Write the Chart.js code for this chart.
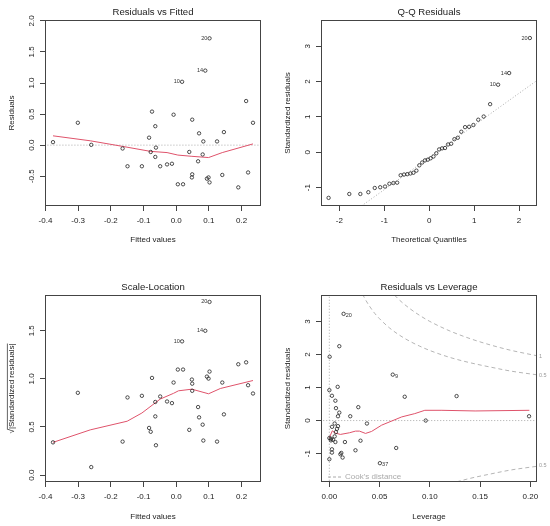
<!DOCTYPE html>
<html><head><meta charset="utf-8">
<script src="https://cdn.jsdelivr.net/npm/chart.js@4/dist/chart.umd.min.js"></script>
<style>
html,body{margin:0;padding:0;background:#fff;}
#wrap{position:relative;width:550px;height:526px;background:#fff;}
canvas{position:absolute;display:block;}
</style></head><body>
<div id="wrap">
<canvas id="c1" width="275" height="263" style="left:0;top:0"></canvas>
<canvas id="c2" width="275" height="263" style="left:275px;top:0"></canvas>
<canvas id="c3" width="275" height="251" style="left:0;top:275px"></canvas>
<canvas id="c4" width="275" height="251" style="left:275px;top:275px"></canvas>
</div>
<script>
// ---------- data ----------
const fitted = [-0.377,-0.301,-0.26,-0.164,-0.149,-0.105,-0.083,-0.078,-0.074,-0.064,-0.062,-0.064,-0.049,-0.028,-0.013,-0.008,0.005,0.018,0.021,0.04,0.049,0.049,0.048,0.067,0.07,0.081,0.083,0.089,0.094,0.099,0.102,0.102,0.125,0.141,0.146,0.19,0.214,0.22,0.235];
const residuals = [0.048,0.36,0.005,-0.054,-0.34,-0.34,0.12,-0.11,0.54,0.305,-0.04,-0.19,-0.34,-0.31,-0.30,0.49,-0.63,1.02,-0.63,-0.11,0.41,-0.47,-0.52,-0.26,0.19,-0.15,0.06,1.20,-0.54,-0.52,-0.60,1.72,0.06,-0.48,0.21,-0.68,0.71,-0.44,0.36];
const sqrtAbsStdRes = [0.34,0.855,0.083,0.348,0.807,0.824,0.49,0.45,1.01,0.76,0.31,0.61,0.817,0.765,0.748,0.962,1.097,1.39,1.097,0.47,0.876,0.95,0.993,0.707,0.60,0.524,0.359,1.5,1.024,1.003,1.076,1.80,0.348,0.962,0.631,1.152,1.172,0.934,0.848];
const idIndex = [17,27,31];
const idText = ['10','14','20'];

const lowessRFx = [-0.377,-0.263,-0.164,-0.079,-0.028,0.005,0.048,0.099,0.141,0.235];
const lowessRFy = [0.15,0.07,-0.02,-0.10,-0.12,-0.16,-0.18,-0.20,-0.12,0.02];

const lowessSLx = [-0.377,-0.263,-0.15,-0.105,-0.049,-0.008,0.007,0.048,0.099,0.135,0.235];
const lowessSLy = [0.34,0.47,0.56,0.645,0.79,0.85,0.876,0.893,0.845,0.90,0.983];

const qqTheoretical = [-2.241,-1.780,-1.534,-1.356,-1.213,-1.092,-0.984,-0.887,-0.798,-0.714,-0.636,-0.561,-0.489,-0.419,-0.352,-0.286,-0.221,-0.157,-0.094,-0.031,0.031,0.094,0.157,0.221,0.286,0.352,0.419,0.489,0.561,0.636,0.714,0.798,0.887,0.984,1.092,1.213,1.356,1.534,1.780,2.241];
const qqStdRes = [-1.29,-1.18,-1.18,-1.13,-1.01,-0.99,-0.97,-0.89,-0.87,-0.86,-0.65,-0.63,-0.62,-0.60,-0.58,-0.52,-0.37,-0.29,-0.23,-0.21,-0.17,-0.12,-0.03,0.08,0.11,0.12,0.22,0.24,0.37,0.41,0.58,0.71,0.72,0.77,0.92,1.01,1.36,1.91,2.24,3.23];
const qqIdIndex = [37,38,39];
const qqIdText = ['10','14','20'];
const qqLineX = [-1.51,2.41];
const qqLineY = [-1.52,2.04];

const leverage = [0.0142,0.0099,0.0003,0.0631,0.0,0.0083,0.075,0.0026,0.006,0.0066,0.0099,0.0086,0.0288,0.0208,0.0374,0.0053,0.0027,0.0086,0.0076,0.0,0.0016,0.0053,0.006,0.0155,0.031,0.0026,0.0026,0.026,0.0119,0.0132,0.011,0.0,0.0665,0.0503,0.1266,0.0959,0.1987,0.0016,0.0036,0.0065];
const levStdRes = [3.23,2.25,1.93,1.39,0.92,1.02,0.72,0.75,0.60,0.375,0.24,0.13,0.405,0.13,-0.09,-0.09,-0.19,-0.17,-0.25,-0.53,-0.60,-0.48,-0.65,-0.65,-0.61,-0.87,-0.97,-0.90,-0.98,-1.12,-1.02,-1.17,-0.83,-1.29,0.74,0.0,0.13,-0.55,-0.58,-0.35];
const levIdIndex = [0,3,33];
const levIdText = ['20','9','37'];
const lowessLevX = [0,0.003,0.006,0.011,0.02,0.026,0.03,0.036,0.042,0.052,0.072,0.085,0.095,0.112,0.145,0.199];
const lowessLevY = [-0.52,-0.31,-0.38,-0.42,-0.37,-0.32,-0.32,-0.39,-0.33,-0.14,0.11,0.21,0.31,0.31,0.29,0.31];

const cookHalfUpX = [0.03,0.035,0.04,0.045,0.05,0.06,0.07,0.08,0.09,0.10,0.12,0.14,0.16,0.18,0.21];
const cookHalfUpY = [4.02,3.71,3.46,3.25,3.08,2.80,2.58,2.40,2.25,2.12,1.91,1.75,1.62,1.50,1.37];
const cookOneUpX = [0.06,0.07,0.08,0.09,0.10,0.12,0.14,0.16,0.18,0.21];
const cookOneUpY = [3.95,3.64,3.39,3.18,3.00,2.71,2.48,2.29,2.13,1.94];
const cookHalfLoX = [0.12,0.14,0.16,0.18,0.21];
const cookHalfLoY = [-1.91,-1.75,-1.62,-1.50,-1.37];
const cookLabels = ['1','0.5','0.5'];

const fittedTicks = [-0.4,-0.3,-0.2,-0.1,0.0,0.1,0.2];
const residTicks = [-0.5,0.0,0.5,1.0,1.5,2.0];
const qqXTicks = [-2,-1,0,1,2];
const qqYTicks = [-1,0,1,2,3];
const slYTicks = [0.0,0.5,1.0,1.5];
const levXTicks = [0.00,0.05,0.10,0.15,0.20];
const levYTicks = [-1,0,1,2,3];

// ---------- rendering ----------
const FONT = "'Liberation Sans', Arial, sans-serif";
const TXT = '#222';
const zip = (xs, ys) => xs.map((x, i) => ({x, y: ys[i]}));

const boxPlugin = {
  id: 'rbox',
  afterDraw(chart, args, opts) {
    const {ctx, chartArea: a} = chart;
    ctx.save();
    ctx.strokeStyle = '#444'; ctx.lineWidth = 1;
    ctx.strokeRect(Math.round(a.left) + 0.5, Math.round(a.top) + 0.5, Math.round(a.right - a.left) - 1, Math.round(a.bottom - a.top) - 1);
    // panel title centred over the plot box
    ctx.fillStyle = TXT; ctx.font = '9.6px ' + FONT; ctx.textAlign = 'center'; ctx.textBaseline = 'middle';
    ctx.fillText(opts.title, (a.left + a.right) / 2, 12);
    // overline of the square-root symbol in the y title
    if (opts.overline) {
      const ys = chart.scales.y;
      ctx.font = '8px ' + FONT;
      const full = ctx.measureText(ys.options.title.text).width;
      const root = ctx.measureText('\u221A').width;
      const cy = (a.top + a.bottom) / 2;
      const tx = ys.left + 4.8 + ys.options.title.padding.top - 4.6;
      ctx.strokeStyle = TXT; ctx.lineWidth = 0.7;
      ctx.beginPath(); ctx.moveTo(tx, cy + full / 2 - root + 0.5); ctx.lineTo(tx, cy - full / 2); ctx.stroke();
    }
    ctx.restore();
  }
};

const idPlugin = {
  id: 'idLabels',
  afterDatasetsDraw(chart, args, opts) {
    if (!opts || !opts.items) return;
    const {ctx} = chart; const xs = chart.scales.x, ys = chart.scales.y;
    ctx.save();
    ctx.font = '5.5px ' + FONT; ctx.fillStyle = '#333'; ctx.textBaseline = 'middle';
    opts.items.forEach(it => {
      const px = xs.getPixelForValue(it.x), py = ys.getPixelForValue(it.y);
      if (it.side === 'left') { ctx.textAlign = 'right'; ctx.fillText(it.text, px - 2.2, py); }
      else { ctx.textAlign = 'left'; ctx.fillText(it.text, px + 2.2, py + 1.5); }
    });
    ctx.restore();
  }
};

const cookPlugin = {
  id: 'cookExtras',
  afterDraw(chart, args, opts) {
    if (!opts || !opts.on) return;
    const {ctx, chartArea: a} = chart; const ys = chart.scales.y;
    ctx.save();
    ctx.fillStyle = '#999'; ctx.font = '5.5px ' + FONT; ctx.textAlign = 'left'; ctx.textBaseline = 'middle';
    const ends = [cookOneUpY[cookOneUpY.length - 1], cookHalfUpY[cookHalfUpY.length - 1], cookHalfLoY[cookHalfLoY.length - 1]];
    ends.forEach((v, i) => ctx.fillText(cookLabels[i], a.right + 2, ys.getPixelForValue(v)));
    const ly = a.bottom - 5;
    ctx.strokeStyle = '#aaa'; ctx.lineWidth = 1; ctx.setLineDash([3, 2]);
    ctx.beginPath(); ctx.moveTo(a.left + 7, ly); ctx.lineTo(a.left + 21, ly); ctx.stroke();
    ctx.setLineDash([]);
    ctx.fillStyle = '#aaa'; ctx.font = '8px ' + FONT;
    ctx.fillText("Cook's distance", a.left + 24, ly);
    ctx.restore();
  }
};

function pointsDS(xs, ys) {
  return {data: zip(xs, ys), showLine: false, pointStyle: 'circle', pointRadius: 1.7, pointBorderWidth: 0.8,
    borderColor: '#222', backgroundColor: 'rgba(0,0,0,0)', pointHoverRadius: 1.7};
}
function lineDS(xs, ys, color, dash, tension) {
  return {data: zip(xs, ys), showLine: true, pointRadius: 0, borderWidth: 1, borderColor: color,
    borderDash: dash || [], fill: false, tension: tension || 0, cubicInterpolationMode: tension ? 'monotone' : 'default'};
}

function makeChart(id, c) {
  return new Chart(document.getElementById(id), {
    type: 'scatter',
    data: {datasets: c.datasets},
    plugins: [boxPlugin, idPlugin, cookPlugin],
    options: {
      responsive: false, animation: false, events: [],
      layout: {padding: {left: 0, right: c.padRight, top: 20, bottom: 0}},
      plugins: {
        legend: {display: false}, tooltip: {enabled: false}, title: {display: false},
        rbox: {title: c.title, overline: !!c.overline},
        idLabels: {items: c.ids || []},
        cookExtras: {on: !!c.cook}
      },
      scales: {
        x: {
          type: 'linear', min: c.xMin, max: c.xMax,
          afterBuildTicks: s => { s.ticks = c.xTicks.map(v => ({value: v})); },
          afterFit: s => { s.height = c.bottomH; },
          grid: {display: true, drawOnChartArea: false, drawTicks: true, tickLength: 5, color: '#444', lineWidth: 1},
          border: {display: false},
          ticks: {color: TXT, font: {family: FONT, size: 8}, padding: 5, maxRotation: 0, minRotation: 0, autoSkip: false,
            callback: v => Number(v).toFixed(c.xDec)},
          title: {display: true, text: c.xTitle, color: TXT, font: {family: FONT, size: 8}, padding: {top: 0, bottom: c.xTitlePad}}
        },
        y: {
          type: 'linear', min: c.yMin, max: c.yMax,
          afterBuildTicks: s => { s.ticks = c.yTicks.map(v => ({value: v})); },
          afterFit: s => { s.width = c.leftW; },
          grid: {display: true, drawOnChartArea: false, drawTicks: true, tickLength: 5, color: '#444', lineWidth: 1},
          border: {display: false},
          ticks: {color: TXT, font: {family: FONT, size: 8}, padding: c.yPad, minRotation: 90, maxRotation: 90, crossAlign: 'center', autoSkip: false,
            callback: v => Number(v).toFixed(c.yDec)},
          title: {display: true, text: c.yTitle, color: TXT, font: {family: FONT, size: 8}, padding: {top: c.yTitlePad, bottom: 0}}
        }
      }
    }
  });
}

const RED = '#DF536B';
const DOT = '#aaa';

makeChart('c1', {
  title: 'Residuals vs Fitted', xTitle: 'Fitted values', yTitle: 'Residuals',
  xMin: -0.4015, xMax: 0.2595, yMin: -0.98, yMax: 2.015, xTicks: fittedTicks, yTicks: residTicks, xDec: 1, yDec: 1,
  leftW: 45, padRight: 14, bottomH: 57, xTitlePad: 18, yPad: 1.1, yTitlePad: 7.2,
  ids: idIndex.map((k, i) => ({x: fitted[k], y: residuals[k], text: idText[i], side: 'left'})),
  datasets: [pointsDS(fitted, residuals), lineDS(lowessRFx, lowessRFy, RED), lineDS([-1, 1], [0, 0], DOT, [1, 2])]
});

makeChart('c2', {
  title: 'Q-Q Residuals', xTitle: 'Theoretical Quantiles', yTitle: 'Standardized residuals',
  xMin: -2.41, xMax: 2.40, yMin: -1.52, yMax: 3.74, xTicks: qqXTicks, yTicks: qqYTicks, xDec: 0, yDec: 0,
  leftW: 46, padRight: 13, bottomH: 57, xTitlePad: 18, yPad: 4.45, yTitlePad: 8.2,
  ids: qqIdIndex.map((k, i) => ({x: qqTheoretical[k], y: qqStdRes[k], text: qqIdText[i], side: 'left'})),
  datasets: [pointsDS(qqTheoretical, qqStdRes), lineDS(qqLineX, qqLineY, DOT, [1, 2])]
});

makeChart('c3', {
  title: 'Scale-Location', xTitle: 'Fitted values', yTitle: '\u221A|Standardized residuals|', overline: true,
  xMin: -0.4015, xMax: 0.2595, yMin: -0.072, yMax: 1.872, xTicks: fittedTicks, yTicks: slYTicks, xDec: 1, yDec: 1,
  leftW: 45, padRight: 14, bottomH: 44, xTitlePad: 4.5, yPad: 2.4, yTitlePad: 7.2,
  ids: idIndex.map((k, i) => ({x: fitted[k], y: sqrtAbsStdRes[k], text: idText[i], side: 'left'})),
  datasets: [pointsDS(fitted, sqrtAbsStdRes), lineDS(lowessSLx, lowessSLy, RED)]
});

makeChart('c4', {
  title: 'Residuals vs Leverage', xTitle: 'Leverage', yTitle: 'Standardized residuals',
  xMin: -0.0083, xMax: 0.2066, yMin: -1.86, yMax: 3.80, xTicks: levXTicks, yTicks: levYTicks, xDec: 2, yDec: 0,
  leftW: 46, padRight: 13, bottomH: 44, xTitlePad: 4.5, yPad: 4.45, yTitlePad: 8.2, cook: true,
  ids: levIdIndex.map((k, i) => ({x: leverage[k], y: levStdRes[k], text: levIdText[i], side: 'right'})),
  datasets: [
    pointsDS(leverage, levStdRes),
    lineDS(lowessLevX, lowessLevY, RED),
    lineDS([-1, 1], [0, 0], DOT, [1, 2]),
    lineDS([0, 0], [-5, 10], DOT, [1, 2]),
    lineDS(cookHalfUpX, cookHalfUpY, '#b5b5b5', [4, 3], 0.4),
    lineDS(cookOneUpX, cookOneUpY, '#b5b5b5', [4, 3], 0.4),
    lineDS(cookHalfLoX, cookHalfLoY, '#b5b5b5', [4, 3], 0.4)
  ]
});
</script>
</body></html>
